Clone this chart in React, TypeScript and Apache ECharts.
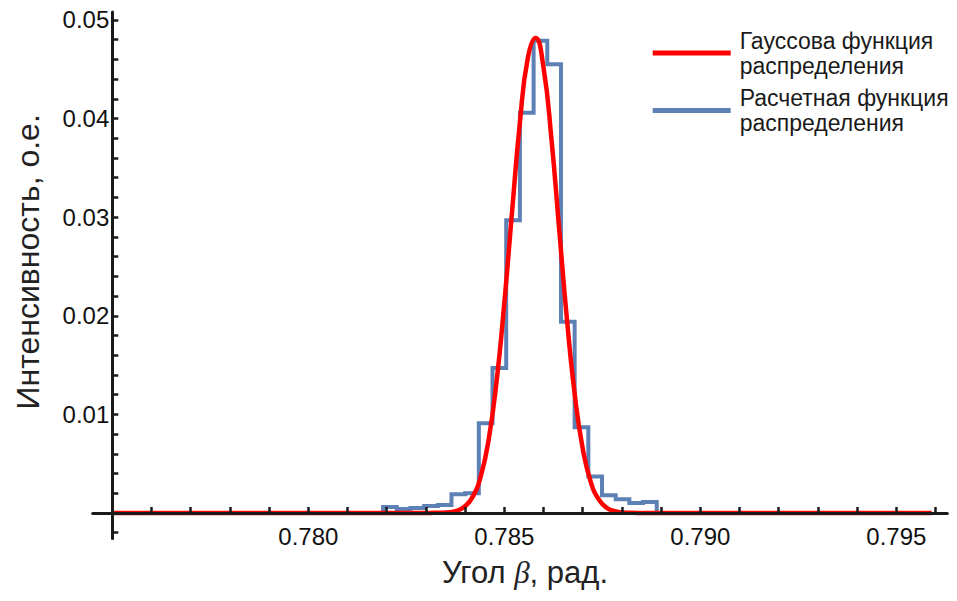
import React, { useEffect, useRef } from "react";
import * as echarts from "echarts";

// ---- axis ranges (radians / intensity) ----
const X_MIN = 0.7745;
const X_MAX = 0.7963;
const X_CROSS = 0.775; // where the vertical axis crosses the horizontal one
const Y_MIN = -0.0026;
const Y_MAX = 0.0508;

// ---- histogram ("Расчетная функция распределения"): bin edges (rad) and heights ----
const binEdges = [
  0.781907, 0.782256, 0.782605, 0.782954, 0.783303, 0.783652, 0.784001,
  0.78435, 0.784699, 0.785048, 0.785398, 0.785747, 0.786096, 0.786445,
  0.786794, 0.787143, 0.787492, 0.787841, 0.78819, 0.788539, 0.788888,
];
const binValues = [
  0.0006, 0.0004, 0.0005, 0.0007, 0.0008, 0.0019, 0.002, 0.0091, 0.0147,
  0.0297, 0.0406, 0.0479, 0.0455, 0.0194, 0.0087, 0.0037, 0.0018, 0.0014,
  0.001, 0.0011,
];

// ---- Gaussian curve ("Гауссова функция распределения") ----
const gaussX = [
  0.775, 0.783, 0.7832, 0.7834, 0.7836, 0.7838, 0.784, 0.7842, 0.7844,
  0.7846, 0.7848, 0.785, 0.7852, 0.7854, 0.7856, 0.7858, 0.786, 0.7862,
  0.7864, 0.7866, 0.7868, 0.787, 0.7872, 0.7874, 0.7876, 0.7878, 0.788,
  0.7882, 0.7884, 0.7959,
];
const gaussY = [
  0, 0, 0.00001, 0.00002, 0.00008, 0.00025, 0.00068, 0.00168, 0.00373,
  0.00742, 0.01326, 0.02128, 0.03067, 0.0397, 0.04615, 0.04817, 0.04516,
  0.03803, 0.02876, 0.01953, 0.01191, 0.00652, 0.00321, 0.00142, 0.00056,
  0.0002, 0.00006, 0.00002, 0, 0,
];

// ---- ticks ----
const xTickLabels = [0.78, 0.785, 0.79, 0.795];
const xTicks = [
  0.776, 0.777, 0.778, 0.779, 0.78, 0.781, 0.782, 0.783, 0.784, 0.785, 0.786,
  0.787, 0.788, 0.789, 0.79, 0.791, 0.792, 0.793, 0.794, 0.795, 0.796,
];
const yTickLabels = [0.01, 0.02, 0.03, 0.04, 0.05];
const yTicks = [
  -0.002, 0.002, 0.004, 0.006, 0.008, 0.01, 0.012, 0.014, 0.016, 0.018, 0.02,
  0.022, 0.024, 0.026, 0.028, 0.03, 0.032, 0.034, 0.036, 0.038, 0.04, 0.042,
  0.044, 0.046, 0.048, 0.05,
];

const seriesNames = [
  "Гауссова функция\nраспределения",
  "Расчетная функция\nраспределения",
];

const SANS = "'Liberation Sans', Arial, Helvetica, sans-serif";
const SERIF = "'Liberation Serif', 'Times New Roman', serif";
const RED = "#ff0000";
const BLUE = "#5e81b5";
const AXIS = "#1a1a1a";

const GRID = { left: 92.7, top: 12.1, width: 854.6, height: 526.5 };

export default function App() {
  const ref = useRef<HTMLDivElement>(null);

  useEffect(() => {
    if (!ref.current) return;
    const chart = echarts.init(ref.current, undefined, { renderer: "svg" });

    const histData: number[][] = [[binEdges[0], 0]];
    binValues.forEach((v, i) => histData.push([binEdges[i], v]));
    histData.push([binEdges[binEdges.length - 1], 0]);

    const gaussData = gaussX.map((x, i) => [x, gaussY[i]]);

    const yOffset = -((X_CROSS - X_MIN) / (X_MAX - X_MIN)) * GRID.width;

    chart.setOption({
      animation: false,
      backgroundColor: "#ffffff",
      grid: {
        left: GRID.left,
        top: GRID.top,
        width: GRID.width,
        height: GRID.height,
        containLabel: false,
        outerBoundsMode: "none",
      },
      legend: {
        orient: "vertical",
        left: 652.7,
        top: 19,
        padding: 0,
        itemGap: -10.5,
        itemWidth: 78,
        itemHeight: 5,
        icon: "rect",
        selectedMode: false,
        data: [seriesNames[0], seriesNames[1]],
        textStyle: {
          fontFamily: SANS,
          fontSize: 23,
          lineHeight: 25,
          color: "#1a1a1a",
          padding: [18, 0, 0, 4],
        },
      },
      xAxis: {
        type: "value",
        min: X_MIN,
        max: X_MAX,
        z: 5,
        axisLine: { show: true, onZero: true, lineStyle: { color: AXIS, width: 3 } },
        axisTick: {
          show: true,
          inside: true,
          length: 6,
          customValues: xTicks,
          lineStyle: { color: AXIS, width: 2.5 },
        },
        axisLabel: {
          customValues: xTickLabels,
          formatter: (v: number) => v.toFixed(3),
          fontFamily: SANS,
          fontSize: 24,
          lineHeight: 24,
          color: "#111",
          margin: -14,
        },
        splitLine: { show: false },
        name: "Угол {b|β}, рад.",
        nameLocation: "middle",
        nameGap: 19,
        nameMoveOverlap: false,
        nameTextStyle: {
          fontFamily: SANS,
          fontSize: 31,
          lineHeight: 30,
          color: "#222",
          padding: [0, 0, 0, 10],
          rich: {
            b: {
              fontFamily: SERIF,
              fontStyle: "italic",
              fontSize: 31,
              lineHeight: 30,
              color: "#222",
            },
          },
        },
      },
      yAxis: {
        type: "value",
        min: Y_MIN,
        max: Y_MAX,
        offset: yOffset,
        z: 5,
        axisLine: { show: true, onZero: false, lineStyle: { color: AXIS, width: 3 } },
        axisTick: {
          show: true,
          inside: true,
          length: 6,
          customValues: yTicks,
          lineStyle: { color: AXIS, width: 2.5 },
        },
        axisLabel: {
          customValues: yTickLabels,
          formatter: (v: number) => v.toFixed(2),
          fontFamily: SANS,
          fontSize: 24,
          color: "#111",
          margin: 3,
        },
        splitLine: { show: false },
        name: "Интенсивность, о.е.",
        nameLocation: "middle",
        nameRotate: 90,
        nameGap: 68,
        nameMoveOverlap: false,
        nameTextStyle: {
          fontFamily: SANS,
          fontSize: 32,
          color: "#222",
          padding: [0, 0, 0, 27],
        },
      },
      series: [
        {
          name: seriesNames[1],
          type: "line",
          step: "end",
          data: histData,
          symbol: "none",
          showSymbol: false,
          color: BLUE,
          lineStyle: { color: BLUE, width: 4, join: "miter", cap: "butt" },
          z: 2,
        },
        {
          name: seriesNames[0],
          type: "line",
          data: gaussData,
          smooth: true,
          symbol: "none",
          showSymbol: false,
          color: RED,
          lineStyle: { color: RED, width: 4.5 },
          z: 3,
        },
      ],
    });

    return () => chart.dispose();
  }, []);

  return (
    <div
      ref={ref}
      style={{ position: "fixed", left: 0, top: 0, width: 957, height: 601, background: "#fff" }}
    />
  );
}
